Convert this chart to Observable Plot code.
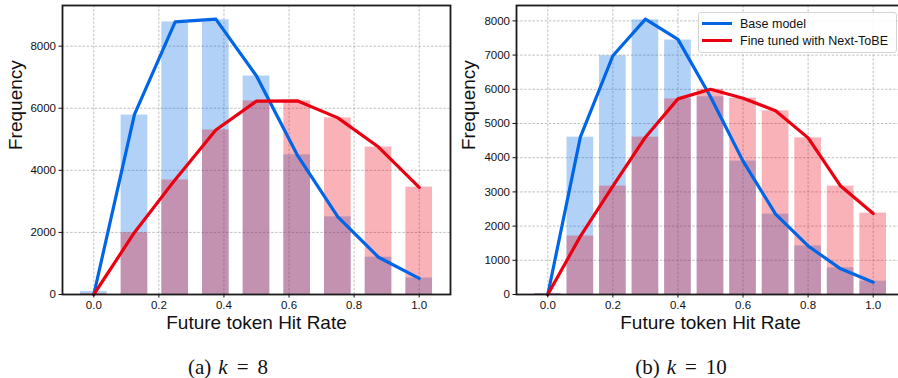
<!DOCTYPE html>
<html>
<head>
<meta charset="utf-8">
<script src="https://cdn.jsdelivr.net/npm/d3@7"></script>
<script src="https://cdn.jsdelivr.net/npm/@observablehq/plot@0.6"></script>
<style>
  html, body { margin: 0; padding: 0; background: #fff; overflow: hidden; }
  #wrap { position: relative; width: 898px; height: 378px; overflow: hidden; }
  .panel { position: absolute; top: 0; }
  .legend { position: absolute; left: 698px; top: 12px; width: 197px; height: 39px;
    border: 1px solid #d4d4d4; border-radius: 3px; background: rgba(255,255,255,0.85);
    font-family: "Liberation Sans", Arial, sans-serif; font-size: 12.5px; color: #111; }
  .legend .row { position: absolute; left: 0; height: 16px; width: 100%; }
  .legend .sw { position: absolute; left: 3px; top: 6px; width: 30px; height: 3px; }
  .legend .lab { position: absolute; left: 41px; top: 0; line-height: 16px; white-space: nowrap; }
  .cap { position: absolute; top: 357px; font-family: "Liberation Serif", "Times New Roman", serif;
    font-size: 21px; line-height: 21px; white-space: nowrap; transform: translateX(-50%); color: #111; }
  .cap i { margin: 0 9px 0 7px; }
  .cap .eq { margin-right: 9px; }
</style>
</head>
<body>
<div id="wrap"></div>
<script>
// ---- data ----
const leftX = [0, 0.125, 0.25, 0.375, 0.5, 0.625, 0.75, 0.875, 1.0];
const leftBaseBars = [100, 5780, 8780, 8850, 7040, 4500, 2500, 1200, 530];
const leftBaseLine = [0, 5800, 8780, 8870, 7040, 4500, 2500, 1200, 520];
const leftTunedBars = [30, 1990, 3690, 5300, 6235, 6240, 5690, 4750, 3460];
const leftTunedLine = [0, 2000, 3700, 5300, 6230, 6240, 5690, 4750, 3450];

const rightX = [0, 0.1, 0.2, 0.3, 0.4, 0.5, 0.6, 0.7, 0.8, 0.9, 1.0];
const rightBaseBars = [30, 4600, 6980, 8030, 7440, 5780, 3900, 2350, 1420, 780, 390];
const rightBaseLine = [0, 4600, 6980, 8050, 7460, 5780, 3900, 2350, 1420, 750, 360];
const rightTunedBars = [25, 1710, 3170, 4600, 5720, 6000, 5740, 5370, 4580, 3170, 2380];
const rightTunedLine = [0, 1700, 3170, 4600, 5720, 6000, 5740, 5370, 4580, 3170, 2370];

const xTicks = [0, 0.2, 0.4, 0.6, 0.8, 1.0];
const leftYTicks = [0, 2000, 4000, 6000, 8000];
const rightYTicks = [0, 1000, 2000, 3000, 4000, 5000, 6000, 7000, 8000];

const seriesNames = ["Base model", "Fine tuned with Next-ToBE"];
const captions = [["(a)", "k", "8"], ["(b)", "k", "10"]];
const xLabel = "Future token Hit Rate";
const yLabel = "Frequency";

// ---- style ----
const BLUE = "#0066e6";
const RED = "#ea0010";
const BW = 0.082;

function zip(xs, vs) { return xs.map((x, i) => ({x, v: vs[i]})); }

function panel({xs, baseBars, baseLine, tunedBars, tunedLine, yTicks, yMax, marginLeft, marginRight, ylabDx}) {
  const gridStyle = {stroke: "#b0b0b0", strokeOpacity: 1, strokeDasharray: "2.5,1.6", strokeWidth: 0.8};
  return Plot.plot({
    width: 460, height: 340,
    marginLeft, marginRight, marginTop: 5, marginBottom: 46,
    x: {domain: [-0.0962, 1.0962]},
    y: {domain: [0, yMax]},
    style: {fontFamily: "'Liberation Sans', Arial, sans-serif", background: "transparent", overflow: "visible", color: "#111"},
    marks: [
      Plot.gridX(xTicks, gridStyle),
      Plot.gridY(yTicks, gridStyle),
      Plot.rect(zip(xs, baseBars), {x1: d => d.x - BW / 2, x2: d => d.x + BW / 2, y1: () => 0, y2: "v", fill: BLUE, fillOpacity: 0.3}),
      Plot.rect(zip(xs, tunedBars), {x1: d => d.x - BW / 2, x2: d => d.x + BW / 2, y1: () => 0, y2: "v", fill: RED, fillOpacity: 0.3}),
      Plot.line(zip(xs, baseLine), {x: "x", y: "v", stroke: BLUE, strokeWidth: 3.2, strokeLinejoin: "round"}),
      Plot.line(zip(xs, tunedLine), {x: "x", y: "v", stroke: RED, strokeWidth: 3.2, strokeLinejoin: "round"}),
      Plot.frame({stroke: "#1a1a1a", strokeWidth: 1.8}),
      Plot.axisX(xTicks, {tickFormat: d3.format(".1f"), tickSize: 3.5, tickPadding: 3, fontSize: 11.5, label: null, stroke: "#111"}),
      Plot.axisY(yTicks, {tickFormat: d => String(d), tickSize: 3.5, tickPadding: 3, fontSize: 11.5, label: null, stroke: "#111"}),
      Plot.text([yLabel], {text: d => d, frameAnchor: "left", lineAnchor: "middle", dx: ylabDx, rotate: -90, fontSize: 19, fill: "#111"}),
      Plot.text([xLabel], {text: d => d, frameAnchor: "bottom", lineAnchor: "bottom", dy: 34, fontSize: 19, fill: "#111"})
    ]
  });
}

const wrap = document.getElementById("wrap");

const left = panel({xs: leftX, baseBars: leftBaseBars, baseLine: leftBaseLine, tunedBars: leftTunedBars, tunedLine: leftTunedLine,
  yTicks: leftYTicks, yMax: 9310, marginLeft: 62, marginRight: 10, ylabDx: -47});
left.classList.add("panel");
left.style.left = "0px";
wrap.appendChild(left);

const right = panel({xs: rightX, baseBars: rightBaseBars, baseLine: rightBaseLine, tunedBars: rightTunedBars, tunedLine: rightTunedLine,
  yTicks: rightYTicks, yMax: 8450, marginLeft: 66, marginRight: 6, ylabDx: -48});
right.classList.add("panel");
right.style.left = "450px";
wrap.appendChild(right);

// legend
const leg = document.createElement("div");
leg.className = "legend";
[BLUE, RED].forEach((c, i) => {
  const row = document.createElement("div");
  row.className = "row";
  row.style.top = (3 + i * 17) + "px";
  const sw = document.createElement("span");
  sw.className = "sw"; sw.style.background = c;
  const lab = document.createElement("span");
  lab.className = "lab"; lab.textContent = seriesNames[i];
  row.appendChild(sw); row.appendChild(lab);
  leg.appendChild(row);
});
wrap.appendChild(leg);

// captions
[228, 681].forEach((cx, i) => {
  const [p, k, n] = captions[i];
  const d = document.createElement("div");
  d.className = "cap";
  d.style.left = cx + "px";
  d.innerHTML = `${p}<i>${k}</i><span class="eq">=</span>${n}`;
  wrap.appendChild(d);
});
</script>
</body>
</html>
